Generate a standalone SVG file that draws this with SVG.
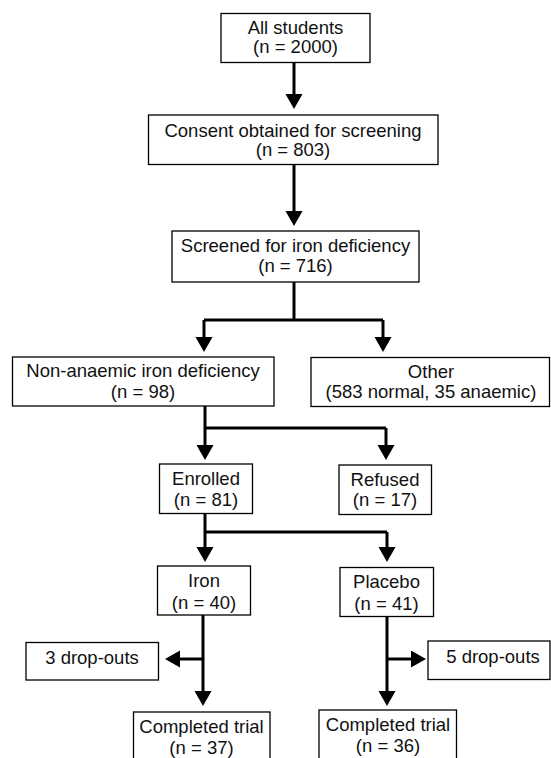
<svg xmlns="http://www.w3.org/2000/svg" width="551" height="758" viewBox="0 0 551 758">
<style>
.box{fill:#fff;stroke:#000;stroke-width:1.3}
.t{font-family:"Liberation Sans",Arial,sans-serif;font-size:18.5px;fill:#111;text-anchor:middle}
.c{fill:none;stroke:#000;stroke-width:3}
</style>
<defs>
<marker id="ah" markerUnits="userSpaceOnUse" markerWidth="16" markerHeight="18" refX="0" refY="8.5" orient="auto">
<path d="M0,0 L15,8.5 L0,17 z" fill="#000"/>
</marker>
</defs>
<rect width="551" height="758" fill="#fff"/>
<g id="connectors">
<path class="c" d="M294,63 V94" marker-end="url(#ah)"/>
<path class="c" d="M294,164 V211" marker-end="url(#ah)"/>
<path class="c" d="M294,282 V320"/>
<path class="c" d="M204,320 H383"/>
<path class="c" d="M204,320 V337" marker-end="url(#ah)"/>
<path class="c" d="M383,320 V337" marker-end="url(#ah)"/>
<path class="c" d="M205,406 V428"/>
<path class="c" d="M205,428 H386"/>
<path class="c" d="M205,428 V445" marker-end="url(#ah)"/>
<path class="c" d="M386,428 V445" marker-end="url(#ah)"/>
<path class="c" d="M205,513 V532"/>
<path class="c" d="M205,532 H387"/>
<path class="c" d="M205,532 V547" marker-end="url(#ah)"/>
<path class="c" d="M387,532 V547" marker-end="url(#ah)"/>
<path class="c" d="M203,615 V691" marker-end="url(#ah)"/>
<path class="c" d="M203,659 H180" marker-end="url(#ah)"/>
<path class="c" d="M387,617 V691" marker-end="url(#ah)"/>
<path class="c" d="M387,659 H411" marker-end="url(#ah)"/>
</g>
<g id="all">
<rect class="box" x="221" y="13.5" width="149" height="49"/>
<text class="t" x="295.5" y="34">All students</text>
<text class="t" x="295.5" y="53">(n = 2000)</text>
</g>
<g id="consent">
<rect class="box" x="148.5" y="115" width="289.5" height="49.5"/>
<text class="t" x="293" y="137">Consent obtained for screening</text>
<text class="t" x="293" y="156">(n = 803)</text>
</g>
<g id="screened">
<rect class="box" x="172" y="231" width="247" height="51"/>
<text class="t" x="295.5" y="252">Screened for iron deficiency</text>
<text class="t" x="295.5" y="272">(n = 716)</text>
</g>
<g id="nonanaemic">
<rect class="box" x="12.5" y="357" width="261.5" height="49"/>
<text class="t" x="143" y="377">Non-anaemic iron deficiency</text>
<text class="t" x="143" y="398">(n = 98)</text>
</g>
<g id="other">
<rect class="box" x="311" y="357.5" width="238.5" height="49"/>
<text class="t" x="431" y="378">Other</text>
<text class="t" x="431" y="398">(583 normal, 35 anaemic)</text>
</g>
<g id="enrolled">
<rect class="box" x="159.5" y="464" width="93" height="49.5"/>
<text class="t" x="206" y="485">Enrolled</text>
<text class="t" x="206" y="505.5">(n = 81)</text>
</g>
<g id="refused">
<rect class="box" x="339" y="465" width="92.5" height="49.5"/>
<text class="t" x="385" y="486">Refused</text>
<text class="t" x="385" y="506">(n = 17)</text>
</g>
<g id="iron">
<rect class="box" x="157.5" y="566" width="93" height="49"/>
<text class="t" x="204" y="586.5">Iron</text>
<text class="t" x="204" y="609">(n = 40)</text>
</g>
<g id="placebo">
<rect class="box" x="340" y="567.5" width="93.5" height="49"/>
<text class="t" x="386.5" y="587.5">Placebo</text>
<text class="t" x="386.5" y="609.5">(n = 41)</text>
</g>
<g id="drop3">
<rect class="box" x="26" y="642.5" width="132.5" height="37.5"/>
<text class="t" x="92" y="663.5">3 drop-outs</text>
</g>
<g id="drop5">
<rect class="box" x="428" y="641" width="122" height="38.5"/>
<text class="t" x="493" y="662.5">5 drop-outs</text>
</g>
<g id="completed1">
<rect class="box" x="133.5" y="712" width="136.5" height="60"/>
<text class="t" x="201.5" y="733">Completed trial</text>
<text class="t" x="201.5" y="754">(n = 37)</text>
</g>
<g id="completed2">
<rect class="box" x="319" y="710" width="137.5" height="60"/>
<text class="t" x="388" y="731">Completed trial</text>
<text class="t" x="388" y="752">(n = 36)</text>
</g>
</svg>
